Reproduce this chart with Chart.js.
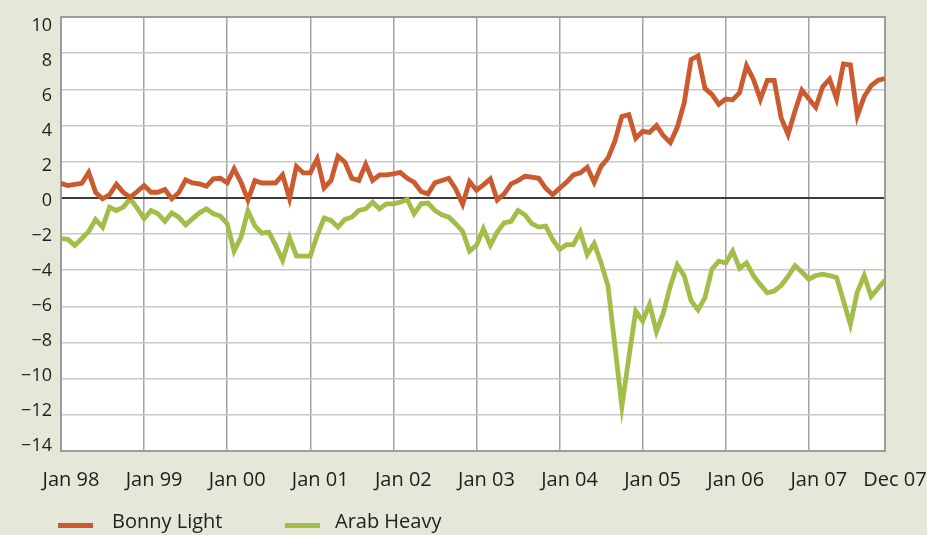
<!DOCTYPE html>
<html>
<head>
<meta charset="utf-8">
<script src="https://cdn.jsdelivr.net/npm/chart.js@4.4.1/dist/chart.umd.min.js"></script>
<style>
  html, body { margin: 0; padding: 0; background: #e5e7d8; }
  #wrap { position: relative; width: 927px; height: 535px; overflow: hidden; }
  #chart { position: absolute; left: 0; top: 0; }
  .key { position: absolute; font: 20px "Open Sans", sans-serif; color: #222; line-height: 1; white-space: nowrap; }
  .swatch { position: absolute; width: 35px; height: 5px; }
</style>
</head>
<body>
<div id="wrap">
  <canvas id="chart" width="927" height="535"></canvas>
  <div class="swatch" style="left:58px;top:523px;background:#cc5a2f"></div>
  <div class="key" style="left:112px;top:511px">Bonny Light</div>
  <div class="swatch" style="left:285px;top:523px;background:#a0be48"></div>
  <div class="key" style="left:335px;top:511px">Arab Heavy</div>
</div>
<script>
// Monthly differentials, Jan 1998 – Dec 2007 (one row per year)
const bonnyLight = [
  0.80, 0.68, 0.74, 0.80, 1.40, 0.30, -0.05, 0.17, 0.75, 0.30, 0.03, 0.35,
  0.68, 0.31, 0.31, 0.46, -0.05, 0.28, 1.00, 0.83, 0.77, 0.64, 1.05, 1.08,
  0.83, 1.60, 0.86, -0.12, 0.95, 0.82, 0.82, 0.83, 1.27, -0.05, 1.74, 1.38,
  1.38, 2.15, 0.55, 0.96, 2.30, 1.97, 1.08, 0.96, 1.85, 0.96, 1.27, 1.27,
  1.32, 1.41, 1.08, 0.86, 0.35, 0.22, 0.83, 0.96, 1.08, 0.50, -0.35, 0.90,
  0.42, 0.72, 1.05, -0.12, 0.22, 0.77, 0.95, 1.19, 1.14, 1.08, 0.53, 0.17,
  0.53, 0.86, 1.27, 1.38, 1.69, 0.86, 1.74, 2.20, 3.15, 4.50, 4.60, 3.30,
  3.68, 3.62, 4.00, 3.43, 3.05, 3.90, 5.25, 7.65, 7.85, 6.05, 5.72, 5.17,
  5.46, 5.42, 5.82, 7.30, 6.55, 5.45, 6.50, 6.50, 4.42, 3.50, 4.80, 5.95,
  5.48, 5.00, 6.14, 6.57, 5.48, 7.40, 7.35, 4.53, 5.60, 6.20, 6.50, 6.60
];
const arabHeavy = [
  -2.26, -2.30, -2.63, -2.25, -1.85, -1.20, -1.62, -0.52, -0.70, -0.51, -0.06, -0.57,
  -1.16, -0.70, -0.88, -1.30, -0.83, -1.07, -1.49, -1.15, -0.83, -0.61, -0.88, -1.01,
  -1.43, -2.95, -2.17, -0.72, -1.55, -1.95, -1.90, -2.63, -3.45, -2.20, -3.21, -3.22,
  -3.22, -2.08, -1.12, -1.25, -1.62, -1.19, -1.07, -0.70, -0.61, -0.24, -0.61, -0.33,
  -0.33, -0.24, -0.09, -0.88, -0.33, -0.29, -0.70, -0.94, -1.07, -1.43, -1.85, -2.95,
  -2.63, -1.71, -2.63, -1.89, -1.38, -1.30, -0.70, -0.94, -1.43, -1.62, -1.56, -2.30,
  -2.85, -2.59, -2.59, -1.89, -3.14, -2.53, -3.60, -4.87, -8.20, -11.54, -8.85, -6.26,
  -6.81, -5.89, -7.40, -6.35, -4.87, -3.72, -4.31, -5.70, -6.20, -5.52, -3.95, -3.50,
  -3.60, -2.95, -3.90, -3.60, -4.30, -4.80, -5.25, -5.15, -4.85, -4.35, -3.75, -4.10,
  -4.50, -4.30, -4.22, -4.30, -4.40, -5.70, -7.00, -5.20, -4.30, -5.45, -5.00, -4.55
];
const seriesNames = ['Bonny Light', 'Arab Heavy'];

// x-axis ticks: month index -> label
const tickMonths = [0, 12, 24, 36, 48, 60, 72, 84, 96, 108, 119];
const tickLabels = ['Jan 98', 'Jan 99', 'Jan 00', 'Jan 01', 'Jan 02', 'Jan 03',
                    'Jan 04', 'Jan 05', 'Jan 06', 'Jan 07', 'Dec 07'];
const yTickValues = [10, 8, 6, 4, 2, 0, -2, -4, -6, -8, -10, -12, -14];

const monthIndex = bonnyLight.map((_, i) => i);
const toPoints = vals => vals.map((v, i) => ({ x: monthIndex[i], y: v }));
const fmt = v => (v < 0 ? '\u2212' + Math.abs(v) : String(v));

// white plot panel with a grey frame
const plotFrame = {
  id: 'plotFrame',
  beforeDraw(chart) {
    const { ctx, chartArea: a } = chart;
    ctx.save();
    ctx.fillStyle = '#ffffff';
    ctx.fillRect(a.left, a.top, a.width, a.height);
    ctx.restore();
  },
  beforeDatasetsDraw(chart) {
    const { ctx, chartArea: a } = chart;
    ctx.save();
    ctx.strokeStyle = '#9c9c9c';
    ctx.lineWidth = 2;
    ctx.strokeRect(a.left, a.top, a.width, a.height);
    ctx.restore();
  }
};

const textColor = '#1e1e1e';
const family = '"Open Sans", sans-serif';

new Chart(document.getElementById('chart'), {
  type: 'line',
  data: {
    datasets: [
      { label: seriesNames[0], data: toPoints(bonnyLight), borderColor: '#cc5a2f',
        borderWidth: 4.8, pointRadius: 0, tension: 0, yAxisID: 'y', borderJoinStyle: 'miter' },
      { label: seriesNames[1], data: toPoints(arabHeavy), borderColor: '#a0be48',
        borderWidth: 4.8, pointRadius: 0, tension: 0, yAxisID: 'y', borderJoinStyle: 'miter' }
    ]
  },
  options: {
    responsive: false,
    animation: false,
    events: [],
    layout: { padding: { top: 17, right: 42, bottom: 0, left: 0 } },
    plugins: { legend: { display: false }, tooltip: { enabled: false } },
    scales: {
      x: {
        type: 'linear', min: 0, max: 119,
        afterBuildTicks: s => { s.ticks = tickMonths.map(v => ({ value: v })); },
        afterFit: s => { s.height = 84; s.paddingLeft = 0; s.paddingRight = 0; },
        grid: { color: '#a4a4a4', lineWidth: 1.5, drawTicks: false },
        border: { display: false },
        ticks: {
          autoSkip: false, maxRotation: 0, labelOffset: 10, padding: 17,
          color: textColor, font: { family, size: 20 },
          callback: v => tickLabels[tickMonths.indexOf(v)]
        }
      },
      y: {
        type: 'linear', min: -14, max: 10,
        afterBuildTicks: s => { s.ticks = yTickValues.map(v => ({ value: v })); },
        afterFit: s => { s.width = 0; s.paddingTop = 0; s.paddingBottom = 0; },
        grid: {
          color: c => (c.tick.value === 0 ? '#3c3c3c' : '#c8c8c8'),
          lineWidth: c => (c.tick.value === 0 ? 2 : 1.6),
          drawTicks: false
        },
        border: { display: false },
        ticks: { display: false }
      },
      yLabels: {
        axis: 'y', type: 'linear', position: 'left', min: -14.29, max: 10.51,
        afterBuildTicks: s => { s.ticks = yTickValues.map(v => ({ value: v })); },
        afterFit: s => { s.width = 61; s.paddingTop = 0; s.paddingBottom = 0; },
        grid: { display: false, drawTicks: false },
        border: { display: false },
        ticks: { padding: 9, color: textColor, font: { family, size: 18 }, callback: v => fmt(v) }
      }
    }
  },
  plugins: [plotFrame]
});
</script>
</body>
</html>
